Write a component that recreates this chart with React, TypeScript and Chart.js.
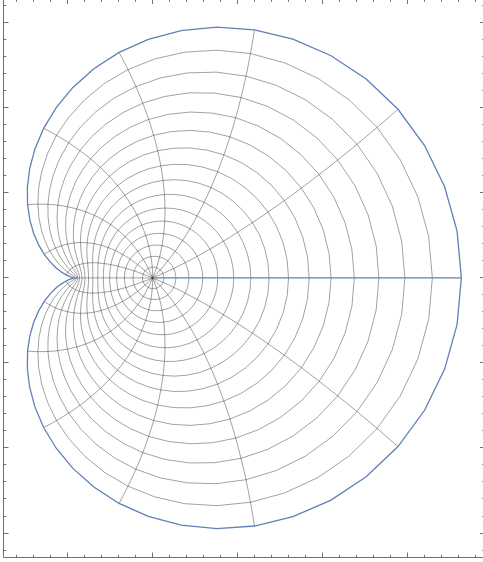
import React, { useEffect, useRef } from 'react';
import { Chart, registerables } from 'chart.js';

Chart.register(...registerables);

// ---- Data: conformal image of a polar grid (unit disk) onto a cardioid ----
// w = K * [ (1 + m(z))^2 - (1 + A)^2 ],  m(z) = (z + A) / (1 + A z)
const MAP_A = -0.105;
const MAP_K = 1.135;

// mesh circles (radius in the disk) and mesh rays (angle in degrees)
const meshRadii = [
  0.0625, 0.125, 0.1875, 0.25, 0.3125, 0.375, 0.4375, 0.5,
  0.5625, 0.625, 0.6875, 0.75, 0.8125, 0.875, 0.9375,
];
const meshAnglesDeg = [
  22.5, 45, 67.5, 90, 112.5, 135, 157.5, 180,
  202.5, 225, 247.5, 270, 292.5, 315, 337.5,
];
const boundaryRadius = 1;
const boundaryAngleDeg = 0;

// plot range (frame) and tick steps
const xRange = [-1.755, 3.909];
const yRange = [-3.288, 3.28];
const majorStep = 1;
const minorStep = 0.2;

const CIRCLE_SAMPLES = 64;
const RAY_SAMPLES = 32;

const BLUE = '#5e81b5';
const MESH = 'rgba(0,0,0,0.37)';
const FRAME = '#707070';

function mapPoint(r: number, thetaDeg: number) {
  const t = (thetaDeg * Math.PI) / 180;
  const zr = r * Math.cos(t);
  const zi = r * Math.sin(t);
  const nr = zr + MAP_A;
  const ni = zi;
  const dr = 1 + MAP_A * zr;
  const di = MAP_A * zi;
  const den = dr * dr + di * di;
  const mr = (nr * dr + ni * di) / den;
  const mi = (ni * dr - nr * di) / den;
  const ar = 1 + mr;
  const ai = mi;
  const sr = ar * ar - ai * ai;
  const si = 2 * ar * ai;
  const c = (1 + MAP_A) * (1 + MAP_A);
  return { x: MAP_K * (sr - c), y: MAP_K * si };
}

function circle(r: number) {
  const pts = [];
  for (let i = 0; i <= CIRCLE_SAMPLES; i++) {
    pts.push(mapPoint(r, (360 * i) / CIRCLE_SAMPLES));
  }
  return pts;
}

function ray(thetaDeg: number) {
  const pts = [];
  for (let i = 0; i <= RAY_SAMPLES; i++) {
    pts.push(mapPoint(i / RAY_SAMPLES, thetaDeg));
  }
  return pts;
}

const frameTicks = {
  id: 'frameTicks',
  afterDraw(chart: any) {
    const { ctx, chartArea } = chart;
    const xs = chart.scales.x;
    const ys = chart.scales.y;
    ctx.save();
    ctx.strokeStyle = FRAME;
    ctx.lineWidth = 1;
    ctx.beginPath();
    ctx.rect(chartArea.left, chartArea.top, chartArea.right - chartArea.left, chartArea.bottom - chartArea.top);
    ctx.stroke();
    ctx.beginPath();
    const ratio = Math.round(majorStep / minorStep);
    for (let k = Math.ceil(xRange[0] / minorStep); k <= Math.floor(xRange[1] / minorStep); k++) {
      const v = k * minorStep;
      const len = k % ratio === 0 ? 5 : 2.8;
      const px = Math.floor(xs.getPixelForValue(v)) + 0.5;
      ctx.moveTo(px, chartArea.bottom);
      ctx.lineTo(px, chartArea.bottom - len);
      ctx.moveTo(px, chartArea.top);
      ctx.lineTo(px, chartArea.top + len);
    }
    for (let k = Math.ceil(yRange[0] / minorStep); k <= Math.floor(yRange[1] / minorStep); k++) {
      const v = k * minorStep;
      const len = k % ratio === 0 ? 5 : 2.8;
      const py = Math.floor(ys.getPixelForValue(v)) + 0.5;
      ctx.moveTo(chartArea.left, py);
      ctx.lineTo(chartArea.left + len, py);
      ctx.moveTo(chartArea.right, py);
      ctx.lineTo(chartArea.right - len, py);
    }
    ctx.stroke();
    ctx.restore();
  },
};

export default function App() {
  const ref = useRef<HTMLCanvasElement | null>(null);

  useEffect(() => {
    if (!ref.current) return;
    const lineDs = (data: any[], color: string, width: number) => ({
      data,
      showLine: true,
      borderColor: color,
      borderWidth: width,
      // a non-empty dash pattern forces the normal path renderer (no pixel-column merging)
      borderDash: [4000, 0],
      pointRadius: 0,
      pointHoverRadius: 0,
      tension: 0,
      fill: false,
    });
    const datasets: any[] = [
      lineDs(circle(boundaryRadius), BLUE, 1.3),
      lineDs(ray(boundaryAngleDeg), BLUE, 1.3),
      ...meshRadii.map((r) => lineDs(circle(r), MESH, 1)),
      ...meshAnglesDeg.map((a) => lineDs(ray(a), MESH, 1)),
    ];
    const chart = new Chart(ref.current, {
      type: 'scatter',
      data: { datasets },
      options: {
        animation: false,
        responsive: false,
        events: [],
        layout: { padding: { left: 3.5, top: 9, right: 15, bottom: 12.5 } },
        plugins: { legend: { display: false }, tooltip: { enabled: false } },
        scales: {
          x: { type: 'linear', min: xRange[0], max: xRange[1], display: false },
          y: { type: 'linear', min: yRange[0], max: yRange[1], display: false },
        },
      },
      plugins: [frameTicks],
    });
    return () => chart.destroy();
  }, []);

  return (
    <div
      style={{
        position: 'fixed',
        left: 0,
        top: 0,
        width: 483,
        height: 562,
        overflow: 'hidden',
        background: '#ffffff',
      }}
    >
      <canvas
        ref={ref}
        width={500}
        height={580}
        style={{ position: 'absolute', left: 0, top: -10, width: 500, height: 580 }}
      />
    </div>
  );
}
